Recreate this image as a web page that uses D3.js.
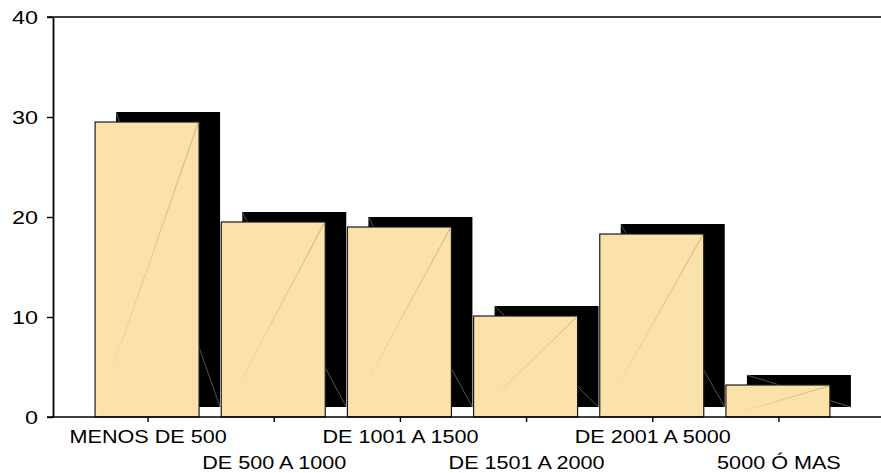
<!DOCTYPE html>
<html>
<head>
<meta charset="utf-8">
<script src="https://cdn.jsdelivr.net/npm/d3@7/dist/d3.min.js"></script>
<style>
  html, body { margin: 0; padding: 0; background: #fff; }
  svg { display: block; }
  text { font-family: "Liberation Sans", Arial, sans-serif; fill: #000; }
</style>
</head>
<body>
<svg id="chart" width="881" height="473"></svg>
<script>
// Income brackets and their percentages
const categories = ["MENOS DE 500", "DE 500 A 1000", "DE 1001 A 1500", "DE 1501 A 2000", "DE 2001 A 5000", "5000 Ó MAS"];
const values = [29.5, 19.5, 19.0, 10.1, 18.3, 3.2];
const yTicks = [0, 10, 20, 30, 40];

const svg = d3.select("#chart");
const W = 881, H = 473;
const plotLeft = 53, plotTop = 17, plotBottom = 417;
const yStretch = 1.3;   // wide lettering on the value axis
const xStretch = 1.2;   // wide lettering on category labels
const fontSize = 18;

const x = d3.scaleBand().domain(categories).range([85, 842]).padding(0);
const y = d3.scaleLinear().domain([0, 40]).range([plotBottom, plotTop]);

const barW = 104;       // front face width
const depthX = 21, depthY = 10;  // back face offset

// gradient for the faint diagonal across each front face
const defs = svg.append("defs");
const grad = defs.append("linearGradient")
  .attr("id", "diag").attr("x1", 0).attr("y1", 1).attr("x2", 1).attr("y2", 0);
grad.append("stop").attr("offset", 0).attr("stop-color", "#fbecc6");
grad.append("stop").attr("offset", 0.35).attr("stop-color", "#e9cc94");
grad.append("stop").attr("offset", 1).attr("stop-color", "#c9a575");

const bars = svg.append("g").selectAll("g").data(categories).join("g");

bars.each(function(c, i) {
  const g = d3.select(this);
  const cx = x(c) + x.bandwidth() / 2;
  const xl = cx - 53, xr = xl + barW;
  const yt = y(values[i]);
  const h = plotBottom - yt;
  // back face (dark)
  g.append("rect")
    .attr("x", xl + depthX).attr("y", yt - depthY)
    .attr("width", barW).attr("height", h)
    .attr("fill", "#000");
  // back face diagonal edge
  g.append("line")
    .attr("x1", xl + depthX).attr("y1", yt - depthY)
    .attr("x2", xr + depthX).attr("y2", plotBottom - depthY)
    .attr("stroke", "#6a6a6a").attr("stroke-width", 0.8);
  // front face
  g.append("rect")
    .attr("x", xl).attr("y", yt)
    .attr("width", barW).attr("height", h)
    .attr("fill", "#fae2a8").attr("stroke", "#1a1a1a").attr("stroke-width", 1.2);
  // front face diagonal
  g.append("path")
    .attr("d", `M${xl + 1},${plotBottom - 1}L${xr - 1},${yt + 1}`)
    .attr("stroke", "url(#diag)").attr("stroke-width", 0.9).attr("fill", "none");
});

// frame lines
svg.append("line").attr("x1", 47).attr("x2", W).attr("y1", plotTop).attr("y2", plotTop)
  .attr("stroke", "#000").attr("stroke-width", 1.6);
svg.append("line").attr("x1", 47).attr("x2", W).attr("y1", plotBottom).attr("y2", plotBottom)
  .attr("stroke", "#000").attr("stroke-width", 1.6);

// y axis
const yAxis = svg.append("g").attr("transform", `translate(${plotLeft},0)`)
  .call(d3.axisLeft(y).tickValues(yTicks).tickSize(6).tickSizeOuter(0).tickPadding(0));
yAxis.select(".domain").attr("stroke", "#000").attr("stroke-width", 1.8);
yAxis.selectAll(".tick line").attr("stroke", "#000").attr("stroke-width", 1.4);
yAxis.selectAll(".tick text")
  .attr("font-family", "Liberation Sans, Arial, sans-serif")
  .attr("font-size", fontSize).attr("fill", "#000")
  .attr("x", -15 / yStretch).attr("dy", "0.36em")
  .attr("transform", `scale(${yStretch},1)`);

// x axis ticks
const xAxis = svg.append("g").attr("transform", `translate(0,${plotBottom})`)
  .call(d3.axisBottom(x).tickSize(5).tickSizeOuter(0).tickFormat(""));
xAxis.select(".domain").remove();
xAxis.selectAll(".tick line").attr("stroke", "#000").attr("stroke-width", 1.4);

// category labels, staggered on two rows
svg.append("g").selectAll("text").data(categories).join("text")
  .attr("font-size", fontSize)
  .attr("text-anchor", "middle")
  .attr("transform", (c, i) => {
    const cx = x(c) + x.bandwidth() / 2;
    const by = i % 2 === 0 ? 443 : 469;
    return `translate(${cx},${by}) scale(${xStretch},1)`;
  })
  .text(c => c);
</script>
</body>
</html>
